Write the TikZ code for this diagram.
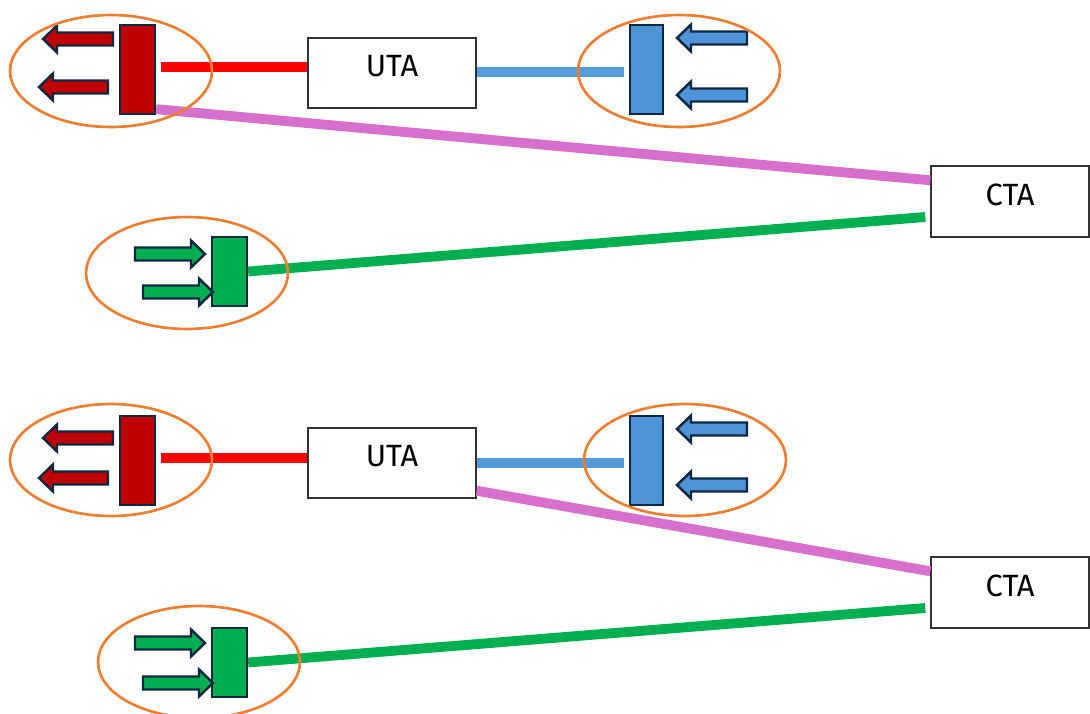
\documentclass[tikz,border=0pt]{standalone}
\usepackage{fontspec}
\setmainfont{Fira Sans}
\usetikzlibrary{shapes.geometric, calc}

\definecolor{barred}{HTML}{C00000}
\definecolor{linered}{HTML}{FF0000}
\definecolor{barblue}{HTML}{4F93D8}
\definecolor{lineblue}{HTML}{559BDB}
\definecolor{linepink}{HTML}{D670CC}
\definecolor{bargreen}{HTML}{00B050}
\definecolor{ringorange}{HTML}{ED7D31}
\definecolor{edgenavy}{HTML}{0E2841}

\tikzset{
  unitbox/.style={draw=black!80, line width=0.8pt, fill=white, minimum height=1.4cm,
    text height=0.7em, text depth=0.25em, font=\fontsize{17.5}{20}\selectfont},
  bar/.style={draw=edgenavy, line width=1.3pt, inner sep=0pt, minimum width=0.7cm},
  ring/.style={ellipse, draw=ringorange, line width=1.5pt, minimum width=4.04cm, minimum height=2.24cm, inner sep=0pt},
  wire/.style={line width=5.6pt},
  blockarrow/.style={draw=edgenavy, line width=1.4pt, line join=miter}
}

\begin{document}
\begin{tikzpicture}[x=0.02cm, y=-0.02cm]
    \useasboundingbox (0,0) rectangle (1090,714);

    % upper setup
    \node[unitbox, minimum width=3.36cm] (uta1) at (392,73) {UTA};
    \node[unitbox, minimum width=3.16cm, minimum height=1.42cm] (cta1) at (1010,201.5) {CTA};
    \node[bar, fill=barred, minimum height=1.78cm] (rb1) at (137.5,69.5) {};
    \node[bar, fill=barblue, minimum width=0.66cm, minimum height=1.78cm] (bb1) at (646.5,69.5) {};
    \node[bar, fill=bargreen, minimum height=1.38cm] (gb1) at (229.5,271.5) {};

    \draw[wire, linered] ([shift={(5,-2.5)}]rb1.east) coordinate (r1) -- (r1 -| uta1.west);
    \draw[wire, lineblue] ([shift={(0,-1)}]uta1.east) coordinate (b1) -- ([shift={(-5,0)}]b1 -| bb1.west);
    \draw[wire, linepink] ([shift={(0,-6)}]rb1.south east) -- ([shift={(0,15)}]cta1.north west);
    \draw[wire, bargreen] (gb1.east) -- ([shift={(-5,15.5)}]cta1.west);

    % lower setup
    \node[unitbox, minimum width=3.36cm] (uta2) at (392,463) {UTA};
    \node[unitbox, minimum width=3.16cm, minimum height=1.42cm] (cta2) at (1010,592.5) {CTA};
    \node[bar, fill=barred, minimum height=1.78cm] (rb2) at (137.5,460.5) {};
    \node[bar, fill=barblue, minimum width=0.66cm, minimum height=1.78cm] (bb2) at (646.5,460.5) {};
    \node[bar, fill=bargreen, minimum height=1.38cm] (gb2) at (229.5,662.5) {};

    \draw[wire, linered] ([shift={(5,-2.5)}]rb2.east) coordinate (r2) -- (r2 -| uta2.west);
    \draw[wire, lineblue] (uta2.east) -- ([shift={(-5,0)}]uta2.east -| bb2.west);
    \draw[wire, linepink] ([shift={(0,-8)}]uta2.south east) -- ([shift={(0,15)}]cta2.north west);
    \draw[wire, bargreen] (gb2.east) -- ([shift={(-5,15.5)}]cta2.west);

    % block arrows: tip x, tip y, tail x
    \foreach \tx/\ty/\tl/\col in {43/39/113/barred, 39/87/108/barred, 677/38/747/barblue, 677/95/747/barblue,
                                 43/438/113/barred, 39/478/108/barred, 677/429/747/barblue, 677/485/747/barblue}
      \draw[blockarrow, fill=\col] (\tx,\ty) -- ({\tx+14},{\ty-13.5}) -- ({\tx+14},{\ty-6.5}) -- (\tl,{\ty-6.5})
        -- (\tl,{\ty+6.5}) -- ({\tx+14},{\ty+6.5}) -- ({\tx+14},{\ty+13.5}) -- cycle;
    \foreach \tx/\ty/\tl in {205/254/135, 213/292/143, 205/643/135, 213/683/143}
      \draw[blockarrow, fill=bargreen] (\tx,\ty) -- ({\tx-14},{\ty-13.5}) -- ({\tx-14},{\ty-6.5}) -- (\tl,{\ty-6.5})
        -- (\tl,{\ty+6.5}) -- ({\tx-14},{\ty+6.5}) -- ({\tx-14},{\ty+13.5}) -- cycle;

    % rings round the ends
    \node[ring] (rr1) at (111,71) {};
    \node[ring] (br1) at (679,71) {};
    \node[ring] (gr1) at (187,273) {};
    \node[ring] (rr2) at (111,460) {};
    \node[ring] (br2) at (685,460) {};
    \node[ring] (gr2) at (199,662) {};
\end{tikzpicture}
\end{document}
